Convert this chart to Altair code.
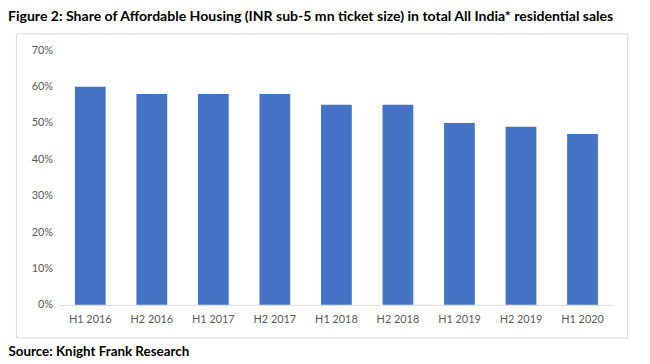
import altair as alt
import pandas as pd

periods = ["H1 2016", "H2 2016", "H1 2017", "H2 2017", "H1 2018",
           "H2 2018", "H1 2019", "H2 2019", "H1 2020"]
shares = [0.60, 0.58, 0.58, 0.58, 0.55, 0.55, 0.50, 0.49, 0.47]
y_ticks = [0, 0.1, 0.2, 0.3, 0.4, 0.5, 0.6, 0.7]

title_text = ("Figure 2: Share of Affordable Housing (INR sub-5 mn ticket size) "
              "in total All India* residential sales")
source_text = "Source: Knight Frank Research"

df = pd.DataFrame({"period": periods, "share": shares})

FONT = "Lato"
LABEL_COLOR = "#595959"

chart = alt.Chart(df).mark_bar(color="#4472C4").encode(
    x=alt.X(
        "period:N",
        sort=periods,
        scale=alt.Scale(range=[44, 603], paddingInner=0.5, paddingOuter=0.25),
        axis=alt.Axis(
            title=source_text,
            titleFont=FONT,
            titleFontSize=13.5,
            titleFontWeight="bold",
            titleColor="#000000",
            titleAlign="left",
            titleAnchor="start",
            titleBaseline="alphabetic",
            titleX=-8,
            titleY=51,
            labelFont=FONT,
            labelFontSize=11,
            labelColor=LABEL_COLOR,
            labelPadding=9,
            labelAngle=0,
            ticks=False,
            domainColor="#d9d9d9",
            domainWidth=1,
            offset=-33,
        ),
    ),
    y=alt.Y(
        "share:Q",
        scale=alt.Scale(domain=[0, 0.7], range=[274, 17], nice=False, zero=True),
        axis=alt.Axis(
            title=None,
            values=y_ticks,
            format=".0%",
            labelFont=FONT,
            labelFontSize=11,
            labelColor=LABEL_COLOR,
            labelPadding=2,
            ticks=False,
            domain=False,
            grid=False,
            offset=-39,
        ),
    ),
).properties(
    width=617,
    height=307,
    autosize=alt.AutoSizeParams(type="none"),
    padding={"left": 8, "top": 24, "right": 15, "bottom": 19},
    title=alt.Title(
        title_text,
        anchor="start",
        frame="group",
        dx=-8,
        dy=15,
        offset=13,
        baseline="alphabetic",
        font=FONT,
        fontSize=14.2,
        fontWeight="bold",
        color="#000000",
    ),
).configure_view(
    stroke="#d9d9d9",
    strokeWidth=1,
)

chart.save("out.html", embed_options={"renderer": "svg", "actions": False})
